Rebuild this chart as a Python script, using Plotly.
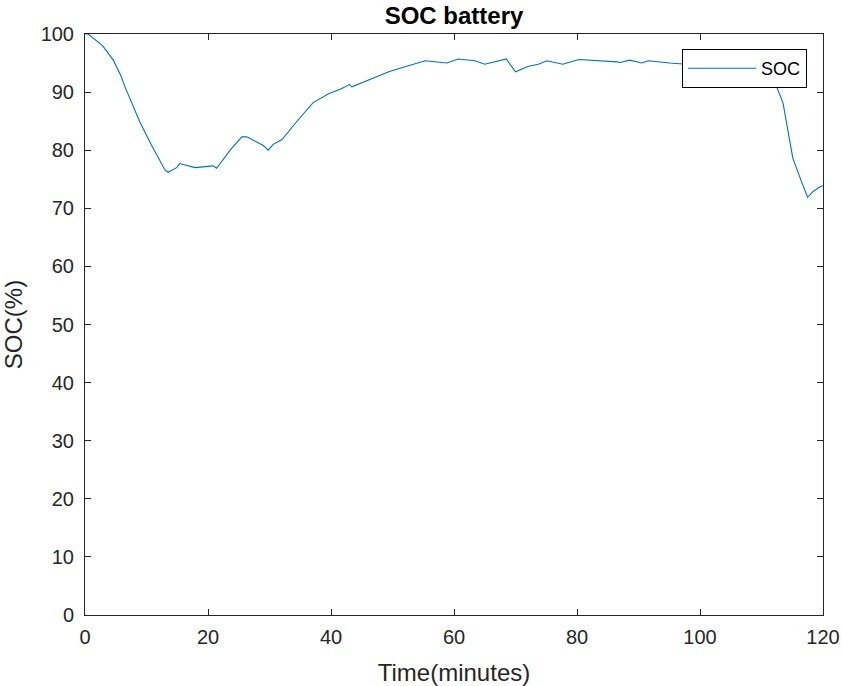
import plotly.graph_objects as go

time_min = [0, 0.5, 2.85, 4.6, 5.8, 6.5, 8.9, 10.8, 13.0, 13.5, 14.9, 15.4, 17.9, 20.8, 21.4,
            23.6, 25.5, 26.3, 29.0, 29.8, 30.6, 32.0, 34.4, 37.1, 39.6, 41.5, 43.0, 43.4,
            49.6, 55.3, 58.8, 60.7, 63.4, 65.0, 68.5, 70.0, 72.0, 73.7, 75.1, 77.7, 80.3,
            82.1, 86.5, 87.0, 88.6, 90.5, 91.6, 95.1, 100.0, 105.0, 110.0, 112.4, 113.5,
            115.1, 116.5, 117.5, 118.4, 119.5, 120.0]
soc_pct = [100, 100, 98.0, 95.5, 92.9, 90.9, 84.9, 80.9, 76.6, 76.2, 77.0, 77.7, 77.0, 77.3, 76.9,
           80.0, 82.3, 82.3, 80.8, 80.0, 81.0, 81.8, 84.9, 88.2, 89.7, 90.5, 91.3, 90.9,
           93.6, 95.4, 95.0, 95.7, 95.4, 94.8, 95.7, 93.5, 94.4, 94.8, 95.4, 94.8, 95.6,
           95.5, 95.2, 95.1, 95.5, 95.0, 95.4, 95.0, 94.6, 94.2, 93.2, 91.1, 88.1,
           78.6, 74.6, 71.9, 72.9, 73.7, 73.9]

x_ticks = [0, 20, 40, 60, 80, 100, 120]
y_ticks = [0, 10, 20, 30, 40, 50, 60, 70, 80, 90, 100]

FONT = "Liberation Sans, Arial, sans-serif"
AX = "#262626"

W, H = 842, 686
ML, MR, MT, MB = 85, 19, 34, 71

fig = go.Figure()
fig.add_trace(go.Scatter(x=time_min, y=soc_pct, mode="lines", name="SOC",
                         line=dict(color="#0072BD", width=1.1)))

axis_common = dict(showgrid=False, zeroline=False, showline=True, linecolor=AX, linewidth=1,
                   mirror="ticks", ticks="inside", ticklen=6, tickcolor=AX, automargin=False,
                   tickfont=dict(family=FONT, size=20, color=AX))

fig.update_layout(
    width=W, height=H,
    paper_bgcolor="white", plot_bgcolor="white",
    margin=dict(l=ML, r=MR, t=MT, b=MB),
    title=dict(text="<b>SOC battery</b>", x=(ML + (W - MR)) / 2 / W, xanchor="center",
               y=1 - 16 / H, yanchor="middle",
               font=dict(family=FONT, size=24, color="black")),
    xaxis=dict(range=[0, 120], tickvals=x_ticks, ticklabelstandoff=4,
               title=dict(text="Time(minutes)", font=dict(family=FONT, size=24, color=AX), standoff=18),
               **axis_common),
    yaxis=dict(range=[0, 100], tickvals=y_ticks,
               title=dict(text="SOC(%)", font=dict(family=FONT, size=24, color=AX), standoff=11),
               ticklabelstandoff=6,
               **axis_common),
    showlegend=True,
    legend=dict(x=(807 - ML) / (W - ML - MR), xanchor="right",
                y=1 - (49 - MT) / (H - MT - MB), yanchor="top", itemwidth=68,
                bgcolor="white", bordercolor="black", borderwidth=1,
                font=dict(family=FONT, size=18, color="black")),
)

fig.write_html("out.html", config={"displayModeBar": False},
               post_script="document.body.style.margin='0';document.body.style.overflow='hidden';")
